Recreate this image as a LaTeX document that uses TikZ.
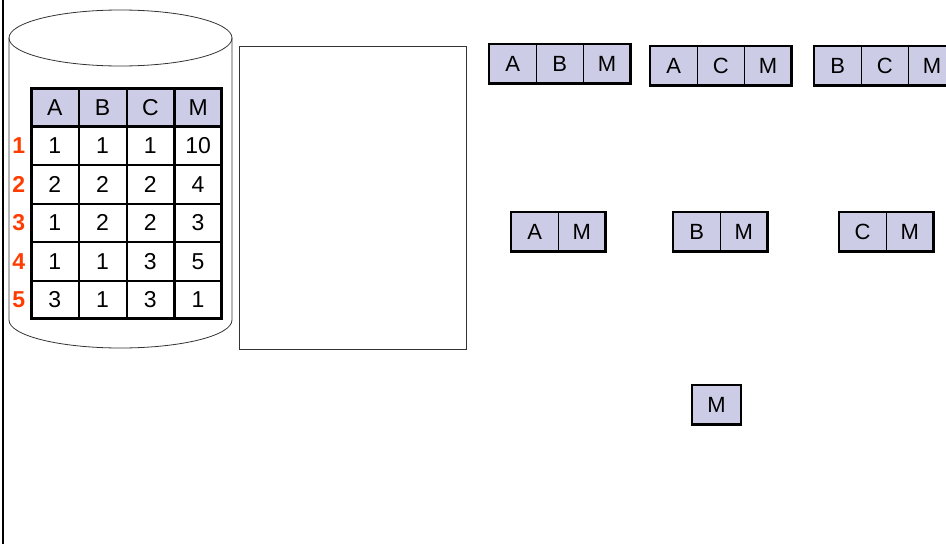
\documentclass[tikz,border=0pt]{standalone}
\usepackage{fontspec}
\setmainfont{Liberation Sans}
\usetikzlibrary{positioning}
\definecolor{cellblue}{RGB}{204,204,230}
\definecolor{rowred}{RGB}{255,60,0}
\tikzset{
    ampersand replacement=\&,
    cell/.style={draw, line width=0.8pt, minimum width=46.95pt, minimum height=37.7pt,
        inner sep=0pt, outer sep=0pt, font=\fontsize{23}{26}\selectfont},
    hdr/.style={cell, fill=cellblue},
    attr/.style={cell, fill=cellblue, minimum width=47.2pt, minimum height=39.2pt,
        font=\fontsize{22}{25}\selectfont},
    rownum/.style={text=rowred, inner sep=0pt, font=\fontsize{23}{26}\selectfont\bfseries},
    boxline/.style={line width=2.6pt},
    thinline/.style={line width=0.8pt, black!80},
}

\begin{document}
\begin{tikzpicture}[x=1pt, y=1pt]
            \useasboundingbox (0,0) rectangle (946,-544);
            \draw[line width=2pt] (3,0) -- (3,-544);

            % disk
            \draw[thinline] (120.5,-38) ellipse [x radius=111.5, y radius=28];
            \draw[thinline] (9,-38) -- (9,-320)
                arc[start angle=180, end angle=360, x radius=111.5, y radius=28] -- (232,-38);

            \matrix (tbl) [anchor=north west, inner sep=0pt, outer sep=0pt] at (31,-88) {
                \node[hdr] (hA) {A}; \& \node[hdr] (hB) {B}; \& \node[hdr] (hC) {C}; \& \node[hdr] (hM) {M}; \\
                \node[cell] (r1A) {1}; \& \node[cell] (r1B) {1}; \& \node[cell] (r1C) {1}; \& \node[cell] (r1M) {10}; \\
                \node[cell] (r2A) {2}; \& \node[cell] (r2B) {2}; \& \node[cell] (r2C) {2}; \& \node[cell] (r2M) {4}; \\
                \node[cell] (r3A) {1}; \& \node[cell] (r3B) {2}; \& \node[cell] (r3C) {2}; \& \node[cell] (r3M) {3}; \\
                \node[cell] (r4A) {1}; \& \node[cell] (r4B) {1}; \& \node[cell] (r4C) {3}; \& \node[cell] (r4M) {5}; \\
                \node[cell] (r5A) {3}; \& \node[cell] (r5B) {1}; \& \node[cell] (r5C) {3}; \& \node[cell] (r5M) {1}; \\
            };
            \draw[boxline] (hA.north west) rectangle (r5M.south east);
            \draw[boxline] (hM.north west) -- (r5M.south west);
            \draw[line width=1.6pt] (hA.south west) -- (hM.south east);

            \foreach \r in {1,...,5}
                \node[rownum, left=6pt of r\r A] (n\r) {\r};

            % memory
            \node[draw, thinline, minimum width=227pt, minimum height=303pt, anchor=north west] (mem) at (239,-46) {};

            % cuboids
            \node[attr, anchor=north west] (abmA) at (489,-44) {A};
            \node[attr, right=0pt of abmA] (abmB) {B};
            \node[attr, right=0pt of abmB] (abmM) {M};
            \draw[boxline] (abmA.north west) rectangle (abmM.south east);

            \node[attr, anchor=north west] (acmA) at (650,-46) {A};
            \node[attr, right=0pt of acmA] (acmC) {C};
            \node[attr, right=0pt of acmC] (acmM) {M};
            \draw[boxline] (acmA.north west) rectangle (acmM.south east);

            \node[attr, anchor=north west] (bcmB) at (814,-46) {B};
            \node[attr, right=0pt of bcmB] (bcmC) {C};
            \node[attr, right=0pt of bcmC] (bcmM) {M};
            \draw[boxline] (bcmB.north west) rectangle (bcmM.south east);

            \node[attr, anchor=north west] (amA) at (511,-212) {A};
            \node[attr, right=0pt of amA] (amM) {M};
            \draw[boxline] (amA.north west) rectangle (amM.south east);

            \node[attr, anchor=north west] (bmB) at (673,-212) {B};
            \node[attr, right=0pt of bmB] (bmM) {M};
            \draw[boxline] (bmB.north west) rectangle (bmM.south east);

            \node[attr, anchor=north west] (cmC) at (839,-212) {C};
            \node[attr, right=0pt of cmC] (cmM) {M};
            \draw[boxline] (cmC.north west) rectangle (cmM.south east);

            \node[attr, minimum width=49pt, anchor=north west] (mM) at (692,-385) {M};
            \draw[boxline] (mM.north west) rectangle (mM.south east);
        \end{tikzpicture}
\end{document}
